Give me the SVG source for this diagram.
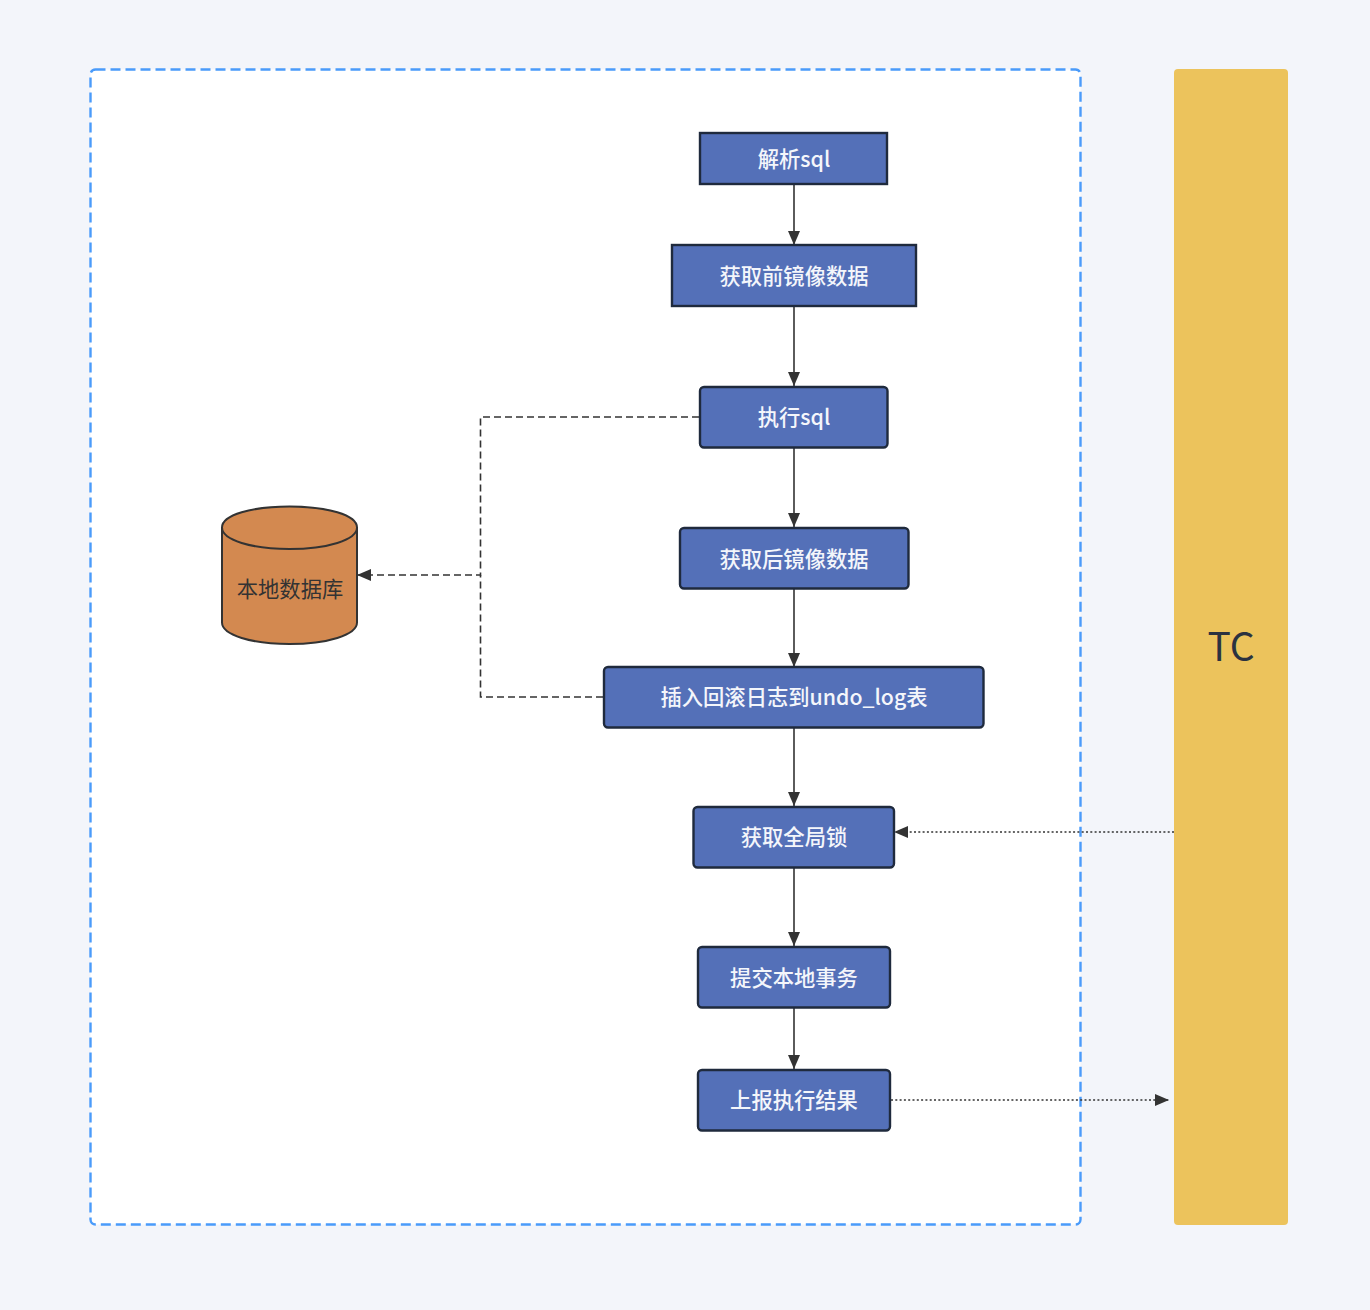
<svg xmlns="http://www.w3.org/2000/svg" width="1370" height="1310" viewBox="0 0 1370 1310">
<style>
.n{fill:#5470b8;stroke:#1f2a3d;stroke-width:2.400}
.t{font-family:"Noto Sans CJK SC","Noto Sans",sans-serif;font-size:21.300px;font-weight:500;fill:#f4f6fb;text-anchor:middle}
.c{fill:none;stroke:#333;stroke-width:1.600}
.d{stroke-dasharray:7 4}
.o{stroke-dasharray:2 2.300;stroke-width:1.400}
</style>
<defs>
<marker id="a" markerUnits="userSpaceOnUse" markerWidth="16" markerHeight="13" refX="14" refY="6" orient="auto"><path d="M0 0L14 6L0 12Z" fill="#333"/></marker>
</defs>
<rect width="1370" height="1310" fill="#f3f5fa"/>
<g id="container"><rect x="90.500" y="69.500" width="990" height="1155" rx="5" fill="#fff" stroke="#4a9bfa" stroke-width="2.400" stroke-dasharray="10 5"/></g>
<g id="tc"><rect x="1174" y="69" width="114" height="1156" rx="4" fill="#ecc35c"/><text x="1231" y="661" font-family="'Noto Sans CJK SC','Noto Sans',sans-serif" font-size="39" fill="#2b3240" text-anchor="middle">TC</text></g>
<g id="connectors">
<path class="c" marker-end="url(#a)" d="M794 185V245"/>
<path class="c" marker-end="url(#a)" d="M794 306V386"/>
<path class="c" marker-end="url(#a)" d="M794 448V527"/>
<path class="c" marker-end="url(#a)" d="M794 589V667"/>
<path class="c" marker-end="url(#a)" d="M794 728V806"/>
<path class="c" marker-end="url(#a)" d="M794 868V946"/>
<path class="c" marker-end="url(#a)" d="M794 1008V1069"/>
<path class="c d" marker-end="url(#a)" d="M699 417H480.500V575H357"/>
<path class="c d" d="M603 697H480.500V575"/>
<path class="c o" marker-end="url(#a)" d="M1174 832H894"/>
<path class="c o" marker-end="url(#a)" d="M891 1100H1169"/>
</g>
<g id="db"><path d="M222 527.500C222 515 252 506.500 289.500 506.500S357 515 357 527.500V622.500C357 635 327 644 289.500 644S222 635 222 622.500Z" fill="#d38950" stroke="#333" stroke-width="2"/><path d="M222 527.500C222 540 252 549 289.500 549S357 540 357 527.500" fill="none" stroke="#333" stroke-width="2"/><text x="290" y="597" font-family="'Noto Sans CJK SC','Noto Sans',sans-serif" font-size="21.300" fill="#333" text-anchor="middle">本地数据库</text></g>
<g id="n1"><rect class="n" x="700" y="133" width="187" height="51"/><text class="t" x="794" y="167">解析sql</text></g>
<g id="n2"><rect class="n" x="672" y="245" width="244" height="61"/><text class="t" x="794" y="284">获取前镜像数据</text></g>
<g id="n3"><rect class="n" x="700" y="387" width="187.500" height="60.500" rx="4"/><text class="t" x="794" y="425">执行sql</text></g>
<g id="n4"><rect class="n" x="680" y="528" width="228.500" height="60.500" rx="4"/><text class="t" x="794" y="567">获取后镜像数据</text></g>
<g id="n5"><rect class="n" x="604" y="667" width="379.500" height="60.500" rx="4"/><text class="t" x="794" y="705">插入回滚日志到undo_log表</text></g>
<g id="n6"><rect class="n" x="693.500" y="807" width="200.500" height="60.500" rx="4"/><text class="t" x="794" y="845">获取全局锁</text></g>
<g id="n7"><rect class="n" x="698" y="947" width="192" height="60.500" rx="4"/><text class="t" x="794" y="986">提交本地事务</text></g>
<g id="n8"><rect class="n" x="698" y="1070" width="192" height="60.500" rx="4"/><text class="t" x="794" y="1108">上报执行结果</text></g>
</svg>
